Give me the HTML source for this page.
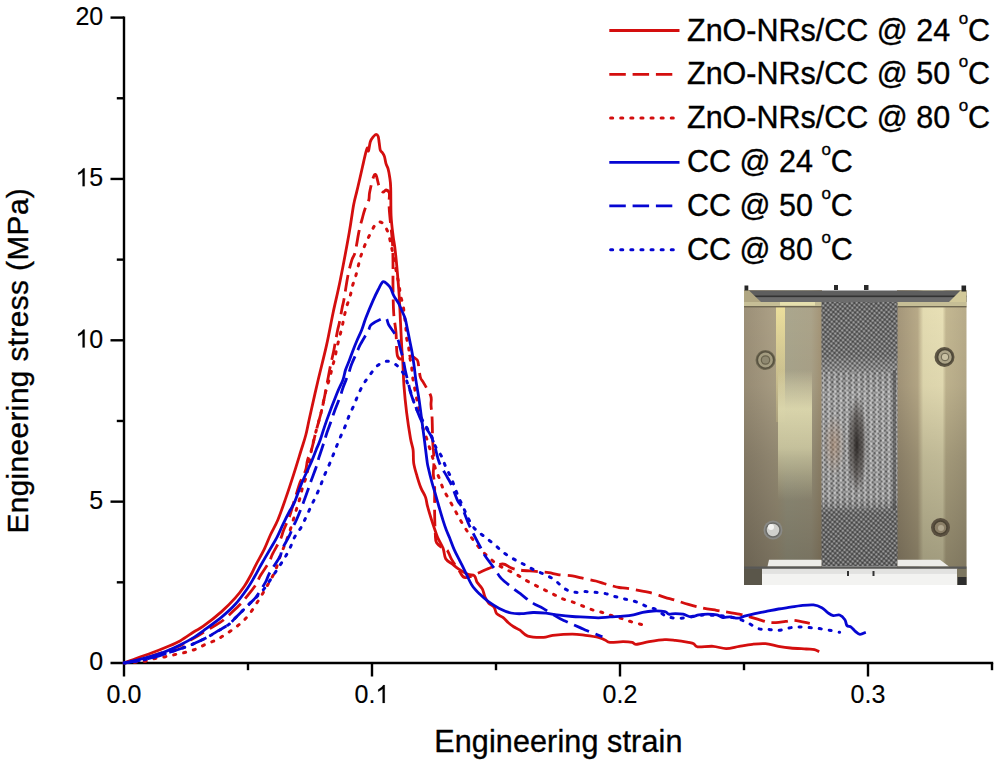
<!DOCTYPE html>
<html><head><meta charset="utf-8"><style>
html,body{margin:0;padding:0;background:#fff;}
svg{display:block;}
text{font-family:"Liberation Sans",sans-serif;fill:#000;stroke:#000;stroke-width:0.35px;}
.tk{font-size:25px;stroke-width:0.15px;}
.ti{font-size:30.5px;}
.lg{font-size:30.5px;}
.sup{font-size:17px;}
</style></head><body>
<svg width="1000" height="765" viewBox="0 0 1000 765">
<rect width="1000" height="765" fill="#fff"/>

<defs>
 <linearGradient id="gl" x1="744" x2="822" y1="0" y2="0" gradientUnits="userSpaceOnUse">
  <stop offset="0" stop-color="#9c9078"/>
  <stop offset="0.33" stop-color="#aa9e84"/>
  <stop offset="0.43" stop-color="#ada286"/>
  <stop offset="0.55" stop-color="#aba78e"/>
  <stop offset="0.86" stop-color="#aca48a"/>
  <stop offset="1" stop-color="#a49476"/>
 </linearGradient>
 <linearGradient id="gr" x1="897" x2="966" y1="0" y2="0" gradientUnits="userSpaceOnUse">
  <stop offset="0" stop-color="#a4967a"/>
  <stop offset="0.3" stop-color="#b8aa88"/>
  <stop offset="0.38" stop-color="#e4dcb2"/>
  <stop offset="0.66" stop-color="#e8e0b6"/>
  <stop offset="0.71" stop-color="#c4b892"/>
  <stop offset="1" stop-color="#b8ac8a"/>
 </linearGradient>
 <linearGradient id="gv" x1="0" x2="0" y1="300" y2="585" gradientUnits="userSpaceOnUse">
  <stop offset="0" stop-color="#000" stop-opacity="0"/>
  <stop offset="0.3" stop-color="#000" stop-opacity="0.04"/>
  <stop offset="0.55" stop-color="#000" stop-opacity="0.17"/>
  <stop offset="1" stop-color="#000" stop-opacity="0.33"/>
 </linearGradient>
 <linearGradient id="gs1" x1="0" x2="0" y1="307" y2="420" gradientUnits="userSpaceOnUse">
  <stop offset="0" stop-color="#ecdf9c" stop-opacity="1"/>
  <stop offset="1" stop-color="#ecdf9c" stop-opacity="0.3"/>
 </linearGradient>
 <linearGradient id="gs2" x1="0" x2="0" y1="370" y2="500" gradientUnits="userSpaceOnUse">
  <stop offset="0" stop-color="#efeabc" stop-opacity="0"/>
  <stop offset="0.3" stop-color="#efeabc" stop-opacity="0.95"/>
  <stop offset="0.6" stop-color="#efeabc" stop-opacity="0.9"/>
  <stop offset="1" stop-color="#efeabc" stop-opacity="0"/>
 </linearGradient>
 <linearGradient id="gm" x1="0" x2="0" y1="302" y2="566" gradientUnits="userSpaceOnUse">
  <stop offset="0" stop-color="#686868"/>
  <stop offset="0.2" stop-color="#6e6e6e"/>
  <stop offset="0.27" stop-color="#8a8a8a"/>
  <stop offset="0.35" stop-color="#9a9a9a"/>
  <stop offset="0.74" stop-color="#929292"/>
  <stop offset="0.8" stop-color="#686868"/>
  <stop offset="1" stop-color="#646464"/>
 </linearGradient>
 <radialGradient id="gd" cx="857" cy="445" r="50" gradientUnits="userSpaceOnUse" gradientTransform="translate(857 445) scale(0.2 1) translate(-857 -445)">
  <stop offset="0" stop-color="#2a2624" stop-opacity="0.95"/>
  <stop offset="0.6" stop-color="#3a3430" stop-opacity="0.55"/>
  <stop offset="1" stop-color="#3a3430" stop-opacity="0"/>
 </radialGradient>
 <radialGradient id="gb" cx="834" cy="445" r="22" gradientUnits="userSpaceOnUse" gradientTransform="translate(834 445) scale(0.5 1.4) translate(-834 -445)">
  <stop offset="0" stop-color="#a88060" stop-opacity="0.5"/>
  <stop offset="1" stop-color="#a88060" stop-opacity="0"/>
 </radialGradient>
 <pattern id="pm" width="3.4" height="3.4" patternUnits="userSpaceOnUse" patternTransform="rotate(40)">
  <rect x="0" y="0" width="1.7" height="1.7" fill="#fff" fill-opacity="0.32"/>
  <rect x="1.7" y="1.7" width="1.7" height="1.7" fill="#000" fill-opacity="0.3"/>
 </pattern>
 <pattern id="ps" width="6" height="14" patternUnits="userSpaceOnUse">
  <rect x="0" y="0" width="2" height="14" fill="#fff" fill-opacity="0.22"/>
  <rect x="3.5" y="0" width="1.2" height="14" fill="#000" fill-opacity="0.15"/>
 </pattern>
</defs>
<g>
 <rect x="744" y="290" width="78" height="295" fill="url(#gl)"/>
 <rect x="776" y="307" width="9" height="115" fill="url(#gs1)"/>
 <rect x="778" y="370" width="34" height="130" fill="url(#gs2)"/>
 <rect x="897" y="290" width="69.5" height="295" fill="url(#gr)"/>
 <rect x="744" y="290" width="222.5" height="295" fill="url(#gv)"/>
 <!-- top bar -->
 <rect x="744" y="290.5" width="222.5" height="11.5" fill="#5e5e5e"/>
 <rect x="744" y="295.5" width="222.5" height="1.8" fill="#333"/>
 <rect x="744" y="297.3" width="222.5" height="4.7" fill="#6c6c6c"/>
 <polygon points="744,290 748.5,290 761,302 744,302" fill="#b0a682"/>
 <polygon points="966.5,290 961,290 949,302 966.5,302" fill="#d2c99a"/>
 <rect x="744" y="302" width="222.5" height="4" fill="#c6be96"/>
 <rect x="780" y="302" width="35" height="3.5" fill="#e6e0ae"/>
 <rect x="744" y="306" width="222.5" height="1.4" fill="#6e6650"/>
 <!-- corner blocks -->
 <rect x="744.5" y="285.5" width="3.8" height="5" fill="#262626"/>
 <rect x="961.5" y="285.5" width="4.6" height="6" fill="#262626"/>
 <rect x="834" y="285" width="4" height="5" fill="#2a2a2a"/>
 <rect x="864" y="285" width="4.5" height="5" fill="#2a2a2a"/>
 <!-- mesh -->
 <rect x="821.5" y="302" width="76" height="264" fill="url(#gm)"/>
 <rect x="821.5" y="302" width="76" height="264" fill="url(#pm)"/>
 <rect x="823" y="372" width="70" height="136" fill="url(#ps)"/>
 <rect x="821.5" y="400" width="30" height="100" fill="url(#gb)"/>
 <rect x="821.5" y="380" width="76" height="130" fill="url(#gd)"/>
 <rect x="893" y="370" width="3" height="140" fill="#3a3a3a" fill-opacity="0.5"/>
 <!-- bottom fixtures -->
 <polygon points="769,559.8 821.5,559.8 821.5,566.6 767.5,566.6" fill="#ecece8"/>
 <polygon points="897.5,559.8 940,559.8 949,566.6 897.5,566.6" fill="#ecece8"/>
 <rect x="744" y="566.5" width="222.5" height="2.4" fill="#585856"/>
 <rect x="762" y="568.9" width="195.3" height="16.1" fill="#f3f3f1"/>
 <rect x="762" y="568.9" width="195.3" height="5" fill="#e2e2e0"/>
 <rect x="744" y="569" width="18" height="16" fill="#5a564a"/>
 <rect x="957" y="569" width="9.5" height="8" fill="#7c7660"/>
 <rect x="957.5" y="577" width="9" height="8" fill="#2d2d2d"/>
 <rect x="847" y="571" width="2" height="5" fill="#333"/>
 <rect x="872.5" y="571" width="2" height="5" fill="#333"/>
 <!-- bolts -->
 <circle cx="765.5" cy="360" r="10" fill="#6e6852" />
 <circle cx="765.5" cy="360" r="8.2" fill="#a39c80" stroke="#585240" stroke-width="1.6"/>
 <circle cx="765.5" cy="360" r="4.2" fill="#8e8870" stroke="#6a644e" stroke-width="1.2"/>
 <circle cx="944.5" cy="357" r="10" fill="#5e5644"/>
 <circle cx="945" cy="357" r="7.5" fill="#aca488" stroke="#4e4838" stroke-width="1.6"/>
 <circle cx="945" cy="357" r="3.8" fill="#c8c0a2" stroke="#6a644e" stroke-width="1"/>
 <circle cx="773" cy="530" r="9.5" fill="#8a8a86"/>
 <circle cx="773" cy="530" r="7" fill="#d0d0cc" stroke="#6a6a66" stroke-width="1.5"/>
 <circle cx="771" cy="527" r="3" fill="#f4f4f2"/>
 <circle cx="940.5" cy="527.5" r="9.5" fill="#5a5040"/>
 <circle cx="940.5" cy="527.5" r="6.5" fill="#8a7e66" stroke="#4a4232" stroke-width="1.4"/>
 <circle cx="941" cy="528" r="3" fill="#b0a68e"/>
</g>

<line x1="124" y1="16.4" x2="124" y2="676.5" stroke="#000" stroke-width="2.4"/>
<line x1="110.5" y1="663" x2="993.2" y2="663" stroke="#000" stroke-width="2.4"/>
<line x1="110.5" y1="501.65" x2="124" y2="501.65" stroke="#000" stroke-width="2.4"/>
<line x1="110.5" y1="340.30" x2="124" y2="340.30" stroke="#000" stroke-width="2.4"/>
<line x1="110.5" y1="178.95" x2="124" y2="178.95" stroke="#000" stroke-width="2.4"/>
<line x1="110.5" y1="17.60" x2="124" y2="17.60" stroke="#000" stroke-width="2.4"/>
<line x1="116.8" y1="582.33" x2="124" y2="582.33" stroke="#000" stroke-width="2.4"/>
<line x1="116.8" y1="420.97" x2="124" y2="420.97" stroke="#000" stroke-width="2.4"/>
<line x1="116.8" y1="259.62" x2="124" y2="259.62" stroke="#000" stroke-width="2.4"/>
<line x1="116.8" y1="98.27" x2="124" y2="98.27" stroke="#000" stroke-width="2.4"/>
<line x1="372.00" y1="663" x2="372.00" y2="676.5" stroke="#000" stroke-width="2.4"/>
<line x1="620.00" y1="663" x2="620.00" y2="676.5" stroke="#000" stroke-width="2.4"/>
<line x1="868.00" y1="663" x2="868.00" y2="676.5" stroke="#000" stroke-width="2.4"/>
<line x1="248.00" y1="663" x2="248.00" y2="670.2" stroke="#000" stroke-width="2.4"/>
<line x1="496.00" y1="663" x2="496.00" y2="670.2" stroke="#000" stroke-width="2.4"/>
<line x1="744.00" y1="663" x2="744.00" y2="670.2" stroke="#000" stroke-width="2.4"/>
<line x1="992.00" y1="663" x2="992.00" y2="670.2" stroke="#000" stroke-width="2.4"/>
<text x="103.2" y="670.20" text-anchor="end" class="tk">0</text>
<text x="103.2" y="508.85" text-anchor="end" class="tk">5</text>
<path d="M763 0L583 0L583 1147Q470 1040 222 930L222 1104Q520 1250 646 1472L763 1472Z" transform="translate(75.40,347.50) scale(0.012207,-0.012207)" fill="#000" stroke="#000" stroke-width="12.3"/>
<text x="103.2" y="347.50" text-anchor="end" class="tk">0</text>
<path d="M763 0L583 0L583 1147Q470 1040 222 930L222 1104Q520 1250 646 1472L763 1472Z" transform="translate(75.40,186.15) scale(0.012207,-0.012207)" fill="#000" stroke="#000" stroke-width="12.3"/>
<text x="103.2" y="186.15" text-anchor="end" class="tk">5</text>
<text x="103.2" y="24.80" text-anchor="end" class="tk">20</text>
<text x="124.00" y="703.0" text-anchor="middle" class="tk">0.0</text>
<text x="354.62" y="703.0" class="tk">0.</text>
<path d="M763 0L583 0L583 1147Q470 1040 222 930L222 1104Q520 1250 646 1472L763 1472Z" transform="translate(375.47,703.00) scale(0.012207,-0.012207)" fill="#000" stroke="#000" stroke-width="12.3"/>
<text x="620.00" y="703.0" text-anchor="middle" class="tk">0.2</text>
<text x="868.00" y="703.0" text-anchor="middle" class="tk">0.3</text>
<text x="434.2" y="751.8" class="ti" textLength="248.2" lengthAdjust="spacing">Engineering strain</text>
<text transform="translate(28.3,533.6) rotate(-90)" class="ti" style="font-size:29.8px" textLength="345.4" lengthAdjust="spacing">Engineering stress (MPa)</text>
<path d="M124,663C126.33,662.12 133.33,659.40 138,657.7C142.67,656.00 147.33,654.55 152,652.8C156.67,651.05 161.33,649.18 166,647.2C170.67,645.22 175.33,643.47 180,640.9C184.67,638.33 190.12,634.25 194,631.8C197.88,629.35 198.70,629.57 203.3,626.2C207.90,622.83 216.27,616.32 221.6,611.6C226.93,606.88 231.48,602.17 235.3,597.9C239.12,593.63 241.90,589.82 244.5,586C247.10,582.18 249.00,578.53 250.9,575C252.80,571.47 253.67,569.10 255.9,564.8C258.13,560.50 261.85,554.25 264.3,549.2C266.75,544.15 268.35,539.37 270.6,534.5C272.85,529.63 275.28,526.02 277.8,520C280.32,513.98 283.08,505.92 285.7,498.4C288.32,490.88 290.97,482.80 293.5,474.9C296.03,467.00 298.85,457.65 300.9,451C302.95,444.35 304.37,440.50 305.8,435C307.23,429.50 307.55,426.72 309.5,418C311.45,409.28 314.67,394.80 317.5,382.7C320.33,370.60 323.90,357.07 326.5,345.4C329.10,333.73 330.80,323.60 333.1,312.7C335.40,301.80 337.62,293.33 340.3,280C342.98,266.67 346.98,245.20 349.2,232.7C351.42,220.20 352.35,211.80 353.6,205C354.85,198.20 355.65,196.35 356.7,191.9C357.75,187.45 358.93,182.48 359.9,178.3C360.87,174.12 361.63,170.63 362.5,166.8C363.37,162.97 364.32,158.43 365.1,155.3C365.88,152.17 366.63,148.72 367.2,148C367.77,147.28 367.98,152.05 368.5,151C369.02,149.95 369.47,144.12 370.3,141.7C371.13,139.28 372.53,137.72 373.5,136.5C374.47,135.28 375.32,134.40 376.1,134.4C376.88,134.40 377.68,135.10 378.2,136.5C378.72,137.90 378.85,140.53 379.2,142.8C379.55,145.07 379.77,148.45 380.3,150.1C380.83,151.75 381.72,151.65 382.4,152.7C383.08,153.75 383.80,154.57 384.4,156.4C385.00,158.23 385.38,161.62 386,163.7C386.62,165.78 387.48,166.63 388.1,168.9C388.72,171.17 389.27,174.17 389.7,177.3C390.13,180.43 390.47,181.25 390.7,187.7C390.93,194.15 390.70,207.98 391.1,216C391.50,224.02 392.45,230.33 393.1,235.8C393.75,241.27 394.35,243.37 395,248.8C395.65,254.23 396.30,260.53 397,268.4C397.70,276.27 398.62,287.02 399.2,296C399.78,304.98 400.07,313.57 400.5,322.3C400.93,331.03 401.43,342.12 401.8,348.4C402.17,354.68 402.33,353.72 402.7,360C403.07,366.28 403.35,377.38 404,386.1C404.65,394.82 405.52,403.58 406.6,412.3C407.68,421.02 409.42,432.12 410.5,438.4C411.58,444.68 412.57,445.88 413.1,450C413.63,454.12 413.05,458.75 413.7,463.1C414.35,467.45 415.80,471.97 417,476.1C418.20,480.23 419.48,484.40 420.9,487.9C422.32,491.40 424.40,494.05 425.5,497.1C426.60,500.15 426.52,502.50 427.5,506.2C428.48,509.90 430.10,515.17 431.4,519.3C432.70,523.43 434.23,527.92 435.3,531C436.37,534.08 436.50,534.92 437.8,537.8C439.10,540.68 441.78,544.80 443.1,548.3C444.42,551.80 444.18,556.18 445.7,558.8C447.22,561.42 450.02,562.27 452.2,564C454.38,565.73 456.18,567.47 458.8,569.2C461.42,570.93 465.30,573.30 467.9,574.4C470.50,575.50 472.87,574.48 474.4,575.8C475.93,577.12 475.78,580.13 477.1,582.3C478.42,584.47 481.00,586.40 482.3,588.8C483.60,591.20 483.82,594.30 484.9,596.7C485.98,599.10 487.27,601.47 488.8,603.2C490.33,604.93 492.78,605.35 494.1,607.1C495.42,608.85 495.18,611.95 496.7,613.7C498.22,615.45 501.25,616.08 503.2,617.6C505.15,619.12 506.65,621.28 508.4,622.8C510.15,624.32 511.77,625.47 513.7,626.7C515.63,627.93 517.65,628.63 520,630.2C522.35,631.77 523.88,634.90 527.8,636.1C531.72,637.30 539.35,637.52 543.5,637.4C547.65,637.28 547.90,635.95 552.7,635.4C557.50,634.85 566.85,634.10 572.3,634.1C577.75,634.10 581.05,634.85 585.4,635.4C589.75,635.95 595.13,636.63 598.4,637.4C601.67,638.17 603.07,639.17 605,640C606.93,640.83 606.98,642.12 610,642.4C613.02,642.68 619.40,641.70 623.1,641.7C626.80,641.70 630.03,641.97 632.2,642.4C634.37,642.83 633.27,644.42 636.1,644.3C638.93,644.18 644.40,642.47 649.2,641.7C654.00,640.93 660.53,639.92 664.9,639.7C669.27,639.48 671.48,639.95 675.4,640.4C679.32,640.85 685.35,641.85 688.4,642.4C691.45,642.95 692.17,642.95 693.7,643.7C695.23,644.45 694.37,646.47 697.6,646.9C700.83,647.33 708.35,646.02 713.1,646.3C717.85,646.58 721.75,648.60 726.1,648.6C730.45,648.60 734.83,647.02 739.2,646.3C743.57,645.58 747.93,644.73 752.3,644.3C756.67,643.87 761.05,643.37 765.4,643.7C769.75,644.03 774.22,645.58 778.4,646.3C782.58,647.02 785.87,647.55 790.5,648C795.13,648.45 802.20,648.73 806.2,649C810.20,649.27 812.33,649.15 814.5,649.6C816.67,650.05 818.42,651.35 819.2,651.7" fill="none" stroke="#d40e0e" stroke-width="2.8" stroke-linejoin="round"/>
<path d="M124,663C128.33,661.92 141.50,659.00 150,656.5C158.50,654.00 167.50,651.17 175,648C182.50,644.83 189.83,640.37 195,637.5C200.17,634.63 201.87,633.28 206,630.8C210.13,628.32 216.52,624.73 219.8,622.6C223.08,620.47 222.50,620.83 225.7,618C228.90,615.17 235.80,608.80 239,605.6C242.20,602.40 242.23,602.07 244.9,598.8C247.57,595.53 252.38,589.92 255,586C257.62,582.08 258.27,579.27 260.6,575.3C262.93,571.33 267.00,565.77 269,562.2C271.00,558.63 270.68,557.73 272.6,553.9C274.52,550.07 278.67,543.13 280.5,539.2C282.33,535.27 282.12,534.05 283.6,530.3C285.08,526.55 287.83,520.92 289.4,516.7C290.97,512.48 291.73,509.12 293,505C294.27,500.88 295.78,495.87 297,492C298.22,488.13 298.87,485.42 300.3,481.8C301.73,478.18 304.38,473.95 305.6,470.3C306.82,466.65 306.60,463.40 307.6,459.9C308.60,456.40 310.18,454.12 311.6,449.3C313.02,444.48 314.47,437.32 316.1,431C317.73,424.68 319.87,417.72 321.4,411.4C322.93,405.08 323.90,400.18 325.3,393.1C326.70,386.02 328.50,375.43 329.8,368.9C331.10,362.37 332.23,358.03 333.1,353.9C333.97,349.77 334.25,348.03 335,344.1C335.75,340.17 336.83,334.02 337.6,330.3C338.37,326.58 338.83,325.60 339.6,321.8C340.37,318.00 341.47,311.25 342.2,307.5C342.93,303.75 343.05,304.58 344,299.3C344.95,294.02 346.60,282.33 347.9,275.8C349.20,269.27 350.60,264.02 351.8,260.1C353.00,256.18 353.90,257.08 355.1,252.3C356.30,247.52 357.80,237.07 359,231.4C360.20,225.73 361.32,222.00 362.3,218.3C363.28,214.60 363.82,212.25 364.9,209.2C365.98,206.15 368.02,202.78 368.8,200C369.58,197.22 368.85,196.27 369.6,192.5C370.35,188.73 372.23,180.30 373.3,177.4C374.37,174.50 375.02,173.58 376,175.1C376.98,176.62 378.05,183.68 379.2,186.5C380.35,189.32 381.77,191.42 382.9,192C384.03,192.58 384.93,189.83 386,190C387.07,190.17 388.80,190.83 389.3,193C389.80,195.17 388.92,199.17 389,203C389.08,206.83 389.23,209.50 389.8,216C390.37,222.50 391.87,234.17 392.4,242C392.93,249.83 392.90,255.55 393,263C393.10,270.45 392.88,278.35 393,286.7C393.12,295.05 393.20,305.43 393.7,313.1C394.20,320.77 395.37,325.55 396,332.7C396.63,339.85 396.17,351.62 397.5,356C398.83,360.38 401.75,359.00 404,359C406.25,359.00 409.00,356.00 411,356C413.00,356.00 414.83,358.00 416,359C417.17,360.00 417.28,359.00 418,362C418.72,365.00 419.37,373.52 420.3,377C421.23,380.48 421.85,379.73 423.6,382.9C425.35,386.07 429.57,392.32 430.8,396C432.03,399.68 430.78,401.30 431,405C431.22,408.70 431.82,412.20 432.1,418.2C432.38,424.20 432.38,434.03 432.7,441C433.02,447.97 433.90,454.58 434,460C434.10,465.42 433.20,469.28 433.3,473.5C433.40,477.72 434.38,478.98 434.6,485.3C434.82,491.62 434.48,503.33 434.6,511.4C434.72,519.47 434.97,528.47 435.3,533.7C435.63,538.93 435.08,540.20 436.6,542.8C438.12,545.40 442.57,547.95 444.4,549.3C446.23,550.65 446.40,549.22 447.6,550.9C448.80,552.58 449.63,556.02 451.6,559.4C453.57,562.78 457.12,568.15 459.4,571.2C461.68,574.25 461.92,577.48 465.3,577.7C468.68,577.92 475.88,574.02 479.7,572.5C483.52,570.98 484.40,570.02 488.2,568.6C492.00,567.18 498.70,564.12 502.5,564C506.30,563.88 508.08,566.88 511,567.9C513.92,568.92 515.88,569.52 520,570.1C524.12,570.68 530.90,570.97 535.7,571.4C540.50,571.83 545.10,572.17 548.8,572.7C552.50,573.23 553.98,574.07 557.9,574.6C561.82,575.13 568.38,575.35 572.3,575.9C576.22,576.45 577.48,577.05 581.4,577.9C585.32,578.75 592.07,580.07 595.8,581C599.53,581.93 601.27,582.75 603.8,583.5C606.33,584.25 608.43,584.83 611,585.5C613.57,586.17 616.43,587.02 619.2,587.5C621.97,587.98 623.75,587.80 627.6,588.4C631.45,589.00 638.48,590.38 642.3,591.1C646.12,591.82 646.73,591.67 650.5,592.7C654.27,593.73 660.97,596.10 664.9,597.3C668.83,598.50 670.18,598.72 674.1,599.9C678.02,601.08 683.83,603.10 688.4,604.4C692.97,605.70 696.85,606.72 701.5,607.7C706.15,608.68 712.52,609.65 716.3,610.3C720.08,610.95 720.38,610.95 724.2,611.6C728.02,612.25 735.28,613.43 739.2,614.2C743.12,614.97 743.78,615.10 747.7,616.2C751.62,617.30 758.78,619.72 762.7,620.8C766.62,621.88 767.38,622.60 771.2,622.7C775.02,622.80 781.78,621.80 785.6,621.4C789.42,621.00 790.07,619.97 794.1,620.3C798.13,620.63 807.18,622.88 809.8,623.4" fill="none" stroke="#d40e0e" stroke-width="2.8" stroke-linejoin="round" stroke-dasharray="16.5 6.8"/>
<path d="M124,663C127.45,662.70 139.60,661.95 144.7,661.2C149.80,660.45 151.15,659.25 154.6,658.5C158.05,657.75 161.95,657.37 165.4,656.7C168.85,656.03 171.85,655.25 175.3,654.5C178.75,653.75 182.65,653.12 186.1,652.2C189.55,651.28 192.68,650.35 196,649C199.32,647.65 202.65,645.60 206,644.1C209.35,642.60 212.88,641.60 216.1,640C219.32,638.40 222.10,636.57 225.3,634.5C228.50,632.43 232.18,629.97 235.3,627.6C238.42,625.23 241.18,623.20 244,620.3C246.82,617.40 249.62,613.80 252.2,610.2C254.78,606.60 257.30,602.25 259.5,598.7C261.70,595.15 263.55,592.07 265.4,588.9C267.25,585.73 268.95,582.67 270.6,579.7C272.25,576.73 273.92,574.45 275.3,571.1C276.68,567.75 277.68,563.08 278.9,559.6C280.12,556.12 281.28,553.52 282.6,550.2C283.92,546.88 285.50,543.18 286.8,539.7C288.10,536.22 289.27,532.78 290.4,529.3C291.53,525.82 292.55,522.27 293.6,518.8C294.65,515.33 295.67,511.87 296.7,508.5C297.73,505.13 298.85,502.00 299.8,498.6C300.75,495.20 301.35,491.68 302.4,488.1C303.45,484.52 305.13,480.50 306.1,477.1C307.07,473.70 307.28,472.33 308.2,467.7C309.12,463.07 310.28,455.42 311.6,449.3C312.92,443.18 314.47,437.32 316.1,431C317.73,424.68 319.87,417.72 321.4,411.4C322.93,405.08 323.90,398.77 325.3,393.1C326.70,387.43 328.62,381.77 329.8,377.4C330.98,373.03 331.53,370.28 332.4,366.9C333.27,363.52 334.23,360.37 335,357.1C335.77,353.83 336.23,350.67 337,347.3C337.77,343.93 338.73,340.38 339.6,336.9C340.47,333.42 341.43,329.78 342.2,326.4C342.97,323.02 343.43,319.98 344.2,316.6C344.97,313.22 345.82,309.48 346.8,306.1C347.78,302.72 349.12,299.78 350.1,296.3C351.08,292.82 351.75,288.62 352.7,285.2C353.65,281.78 354.85,279.10 355.8,275.8C356.75,272.50 357.53,268.77 358.4,265.4C359.27,262.03 359.92,258.98 361,255.6C362.08,252.22 363.48,248.48 364.9,245.1C366.32,241.72 367.87,238.57 369.5,235.3C371.13,232.03 373.12,227.72 374.7,225.5C376.28,223.28 377.53,222.25 379,222C380.47,221.75 382.03,222.33 383.5,224C384.97,225.67 386.53,228.52 387.8,232C389.07,235.48 390.07,240.23 391.1,244.9C392.13,249.57 393.02,254.98 394,260C394.98,265.02 396.13,270.72 397,275C397.87,279.28 398.62,282.28 399.2,285.7C399.78,289.12 399.85,292.23 400.5,295.5C401.15,298.77 402.45,301.92 403.1,305.3C403.75,308.68 403.95,312.32 404.4,315.8C404.85,319.28 405.47,322.72 405.8,326.2C406.13,329.68 405.97,333.43 406.4,336.7C406.83,339.97 407.85,342.53 408.4,345.8C408.95,349.07 409.17,352.82 409.7,356.3C410.23,359.78 411.13,363.37 411.6,366.7C412.07,370.03 412.03,372.95 412.5,376.3C412.97,379.65 413.75,383.30 414.4,386.8C415.05,390.30 415.73,393.92 416.4,397.3C417.07,400.68 417.63,403.73 418.4,407.1C419.17,410.47 420.25,414.02 421,417.5C421.75,420.98 422.03,424.73 422.9,428C423.77,431.27 425.10,433.83 426.2,437.1C427.30,440.37 428.42,444.15 429.5,447.6C430.58,451.05 431.73,454.35 432.7,457.8C433.67,461.25 434.22,464.92 435.3,468.3C436.38,471.68 437.90,474.72 439.2,478.1C440.50,481.48 441.57,485.22 443.1,488.6C444.63,491.98 446.55,495.03 448.4,498.4C450.25,501.77 452.35,505.43 454.2,508.8C456.05,512.17 457.63,515.33 459.5,518.6C461.37,521.87 463.33,525.13 465.4,528.4C467.47,531.67 469.52,534.88 471.9,538.2C474.28,541.52 477.10,545.32 479.7,548.3C482.30,551.28 484.67,553.48 487.5,556.1C490.33,558.72 493.65,561.82 496.7,564C499.75,566.18 502.53,567.47 505.8,569.2C509.07,570.93 513.05,572.60 516.3,574.4C519.55,576.20 522.18,578.22 525.3,580C528.42,581.78 531.85,583.48 535,585.1C538.15,586.72 541.15,588.18 544.2,589.7C547.25,591.22 550.25,592.68 553.3,594.2C556.35,595.72 559.23,597.48 562.5,598.8C565.77,600.12 569.53,600.90 572.9,602.1C576.27,603.30 579.43,604.70 582.7,606C585.97,607.30 589.22,608.82 592.5,609.9C595.78,610.98 599.12,611.52 602.4,612.5C605.68,613.48 608.87,614.75 612.2,615.8C615.53,616.85 619.07,617.75 622.4,618.8C625.73,619.85 628.82,621.12 632.2,622.1C635.58,623.08 640.95,624.27 642.7,624.7" fill="none" stroke="#d40e0e" stroke-width="3.0" stroke-linejoin="round" stroke-dasharray="2.1 8.0" stroke-linecap="round"/>
<path d="M124,663C126.33,662.47 133.33,660.97 138,659.8C142.67,658.63 147.33,657.40 152,656C156.67,654.60 161.33,653.22 166,651.4C170.67,649.58 175.33,647.43 180,645.1C184.67,642.77 190.12,639.78 194,637.4C197.88,635.02 198.70,634.18 203.3,630.8C207.90,627.42 216.27,621.52 221.6,617.1C226.93,612.68 231.03,609.03 235.3,604.3C239.57,599.57 244.00,593.28 247.2,588.7C250.40,584.12 252.18,580.78 254.5,576.8C256.82,572.82 258.60,569.23 261.1,564.8C263.60,560.37 266.88,554.73 269.5,550.2C272.12,545.67 274.53,541.95 276.8,537.6C279.07,533.25 281.00,528.45 283.1,524.1C285.20,519.75 287.48,515.17 289.4,511.5C291.32,507.83 292.60,506.70 294.6,502.1C296.60,497.50 298.53,490.77 301.4,483.9C304.27,477.03 309.35,466.55 311.8,460.9C314.25,455.25 314.70,453.48 316.1,450C317.50,446.52 318.45,444.90 320.2,440C321.95,435.10 323.78,428.42 326.6,420.6C329.42,412.78 334.38,399.87 337.1,393.1C339.82,386.33 341.50,383.85 342.9,380C344.30,376.15 344.43,373.25 345.5,370C346.57,366.75 348.08,363.68 349.3,360.5C350.52,357.32 351.52,354.23 352.8,350.9C354.08,347.57 355.52,343.98 357,340.5C358.48,337.02 360.23,333.75 361.7,330C363.17,326.25 363.90,322.93 365.8,318C367.70,313.07 371.02,305.15 373.1,300.4C375.18,295.65 376.67,292.60 378.3,289.5C379.93,286.40 381.37,282.65 382.9,281.8C384.43,280.95 386.20,283.32 387.5,284.4C388.80,285.48 389.62,286.35 390.7,288.3C391.78,290.25 392.68,293.60 394,296.1C395.32,298.60 397.30,300.90 398.6,303.3C399.90,305.70 400.72,307.98 401.8,310.5C402.88,313.02 404.22,315.57 405.1,318.4C405.98,321.23 406.33,323.80 407.1,327.5C407.87,331.20 408.83,336.23 409.7,340.6C410.57,344.97 411.55,349.35 412.3,353.7C413.05,358.05 413.62,362.38 414.2,366.7C414.78,371.02 415.00,374.18 415.8,379.6C416.60,385.02 418.03,392.67 419,399.2C419.97,405.73 420.73,412.27 421.6,418.8C422.47,425.33 423.32,431.53 424.2,438.4C425.08,445.27 426.25,455.23 426.9,460C427.55,464.77 427.25,463.22 428.1,467C428.95,470.78 430.70,477.90 432,482.7C433.30,487.50 434.70,491.67 435.9,495.8C437.10,499.93 438.00,503.37 439.2,507.5C440.40,511.63 441.92,516.85 443.1,520.6C444.28,524.35 445.22,527.13 446.3,530C447.38,532.87 448.28,534.53 449.6,537.8C450.92,541.07 452.45,545.67 454.2,549.6C455.95,553.53 458.25,557.70 460.1,561.4C461.95,565.10 463.35,567.88 465.3,571.8C467.25,575.72 469.40,581.18 471.8,584.9C474.20,588.62 476.87,591.27 479.7,594.1C482.53,596.93 485.53,599.52 488.8,601.9C492.07,604.28 495.60,606.55 499.3,608.4C503.00,610.25 507.30,612.12 511,613C514.70,613.88 517.82,613.78 521.5,613.7C525.18,613.62 529.00,612.58 533.1,612.5C537.20,612.42 541.75,612.75 546.1,613.2C550.45,613.65 554.83,614.65 559.2,615.2C563.57,615.75 567.93,616.18 572.3,616.5C576.67,616.82 581.05,616.88 585.4,617.1C589.75,617.32 594.30,617.83 598.4,617.8C602.50,617.77 605.88,617.17 610,616.9C614.12,616.63 619.18,616.53 623.1,616.2C627.02,615.87 630.23,615.55 633.5,614.9C636.77,614.25 639.43,612.95 642.7,612.3C645.97,611.65 649.40,611.12 653.1,611C656.80,610.88 662.28,611.07 664.9,611.6C667.52,612.13 667.05,613.87 668.8,614.2C670.55,614.53 673.00,613.60 675.4,613.6C677.80,613.60 680.60,613.65 683.2,614.2C685.80,614.75 688.38,616.78 691,616.9C693.62,617.02 696.10,615.35 698.9,614.9C701.70,614.45 704.78,614.20 707.8,614.2C710.82,614.20 714.48,614.35 717,614.9C719.52,615.45 720.72,617.17 722.9,617.5C725.08,617.83 727.60,616.78 730.1,616.9C732.60,617.02 735.52,618.32 737.9,618.2C740.28,618.08 741.57,616.97 744.4,616.2C747.23,615.43 751.40,614.37 754.9,613.6C758.40,612.83 761.48,612.37 765.4,611.6C769.32,610.83 774.22,609.73 778.4,609C782.58,608.27 786.75,607.77 790.5,607.2C794.25,606.63 797.07,605.98 800.9,605.6C804.73,605.22 810.02,604.55 813.5,604.9C816.98,605.25 819.37,606.37 821.8,607.7C824.23,609.03 826.18,611.58 828.1,612.9C830.02,614.22 831.38,615.25 833.3,615.6C835.22,615.95 837.67,614.32 839.6,615C841.53,615.68 843.68,617.95 844.9,619.7C846.12,621.45 845.87,624.27 846.9,625.5C847.93,626.73 849.70,626.13 851.1,627.1C852.50,628.07 853.82,630.08 855.3,631.3C856.78,632.52 858.25,634.23 860,634.4C861.75,634.57 864.83,632.65 865.8,632.3" fill="none" stroke="#0606d2" stroke-width="2.8" stroke-linejoin="round"/>
<path d="M124,663C126.67,662.58 134.87,661.50 140,660.5C145.13,659.50 150.13,658.28 154.8,657C159.47,655.72 162.63,654.55 168,652.8C173.37,651.05 182.65,648.03 187,646.5C191.35,644.97 190.70,645.15 194.1,643.6C197.50,642.05 203.88,639.03 207.4,637.2C210.92,635.37 211.62,634.73 215.2,632.6C218.78,630.47 225.55,626.83 228.9,624.4C232.25,621.97 231.95,621.35 235.3,618C238.65,614.65 245.55,607.80 249,604.3C252.45,600.80 253.27,600.65 256,597C258.73,593.35 263.15,586.37 265.4,582.4C267.65,578.43 267.07,577.52 269.5,573.2C271.93,568.88 277.90,560.50 280,556.5C282.10,552.50 280.53,552.68 282.1,549.2C283.67,545.72 287.55,539.40 289.4,535.6C291.25,531.80 292.03,529.00 293.2,526.4C294.37,523.80 294.78,523.77 296.4,520C298.02,516.23 300.93,508.93 302.9,503.8C304.87,498.67 306.80,493.12 308.2,489.2C309.60,485.28 309.92,484.15 311.3,480.3C312.68,476.45 315.18,470.03 316.5,466.1C317.82,462.17 317.97,460.62 319.2,456.7C320.43,452.78 322.67,446.43 323.9,442.6C325.13,438.77 325.28,437.58 326.6,433.7C327.92,429.82 330.50,423.02 331.8,419.3C333.10,415.58 332.98,415.22 334.4,411.4C335.82,407.58 338.88,400.32 340.3,396.4C341.72,392.48 341.48,391.82 342.9,387.9C344.32,383.98 347.38,376.77 348.8,372.9C350.22,369.03 349.88,368.53 351.4,364.7C352.92,360.87 356.38,353.33 357.9,349.9C359.42,346.47 358.75,347.33 360.5,344.1C362.25,340.87 366.55,333.78 368.4,330.5C370.25,327.22 368.83,326.48 371.6,324.4C374.37,322.32 382.13,317.92 385,318C387.87,318.08 386.75,321.57 388.8,324.9C390.85,328.23 395.45,334.30 397.3,338C399.15,341.70 398.93,343.62 399.9,347.1C400.87,350.58 402.20,355.00 403.1,358.9C404.00,362.80 404.28,365.85 405.3,370.5C406.32,375.15 408.22,382.78 409.2,386.8C410.18,390.82 410.10,391.22 411.2,394.6C412.30,397.98 414.17,402.87 415.8,407.1C417.43,411.33 419.30,416.52 421,420C422.70,423.48 424.33,425.33 426,428C427.67,430.67 429.50,432.83 431,436C432.50,439.17 433.63,442.60 435,447C436.37,451.40 437.18,457.43 439.2,462.4C441.22,467.37 445.03,472.98 447.1,476.8C449.17,480.62 449.87,481.38 451.6,485.3C453.33,489.22 455.75,496.60 457.5,500.3C459.25,504.00 460.35,503.80 462.1,507.5C463.85,511.20 466.27,518.42 468,522.5C469.73,526.58 470.45,527.92 472.5,532C474.55,536.08 478.23,543.08 480.3,547C482.37,550.92 482.38,551.68 484.9,555.5C487.42,559.32 492.68,566.08 495.4,569.9C498.12,573.72 498.15,575.25 501.2,578.4C504.25,581.55 510.32,586.08 513.7,588.8C517.08,591.52 518.78,592.63 521.5,594.7C524.22,596.77 527.63,599.53 530,601.2C532.37,602.87 533.45,603.47 535.7,604.7C537.95,605.93 539.90,606.53 543.5,608.6C547.10,610.67 553.70,615.03 557.3,617.1C560.90,619.17 561.30,619.25 565.1,621C568.90,622.75 576.40,625.97 580.1,627.6C583.80,629.23 583.58,629.28 587.3,630.8C591.02,632.32 599.88,635.72 602.4,636.7" fill="none" stroke="#0606d2" stroke-width="2.8" stroke-linejoin="round" stroke-dasharray="16.5 6.8"/>
<path d="M124,663C126.67,662.58 134.87,661.50 140,660.5C145.13,659.50 150.13,658.28 154.8,657C159.47,655.72 162.63,654.55 168,652.8C173.37,651.05 182.65,648.03 187,646.5C191.35,644.97 190.70,645.15 194.1,643.6C197.50,642.05 203.88,639.03 207.4,637.2C210.92,635.37 211.62,634.73 215.2,632.6C218.78,630.47 225.55,626.83 228.9,624.4C232.25,621.97 231.95,621.35 235.3,618C238.65,614.65 245.55,607.70 249,604.3C252.45,600.90 253.37,600.32 256,597.6C258.63,594.88 262.20,591.28 264.8,588C267.40,584.72 269.25,581.42 271.6,577.9C273.95,574.38 276.63,570.38 278.9,566.9C281.17,563.42 283.28,560.30 285.2,557C287.12,553.70 288.83,550.42 290.4,547.1C291.97,543.78 292.80,540.42 294.6,537.1C296.40,533.78 299.28,530.57 301.2,527.2C303.12,523.83 304.50,520.28 306.1,516.9C307.70,513.52 309.23,510.22 310.8,506.9C312.37,503.58 313.93,500.40 315.5,497C317.07,493.60 318.80,489.90 320.2,486.5C321.60,483.10 322.50,480.00 323.9,476.6C325.30,473.20 327.13,469.50 328.6,466.1C330.07,462.70 331.37,459.52 332.7,456.2C334.03,452.88 335.22,449.63 336.6,446.2C337.98,442.77 339.50,439.10 341,435.6C342.50,432.10 344.18,428.68 345.6,425.2C347.02,421.72 348.08,418.08 349.5,414.7C350.92,411.32 352.68,408.17 354.1,404.9C355.52,401.63 356.48,398.48 358,395.1C359.52,391.72 361.28,387.87 363.2,384.6C365.12,381.33 367.07,378.70 369.5,375.5C371.93,372.30 374.80,367.78 377.8,365.4C380.80,363.02 384.20,361.10 387.5,361.2C390.80,361.30 394.75,363.58 397.6,366C400.45,368.42 402.83,372.45 404.6,375.7C406.37,378.95 407.00,382.23 408.2,385.5C409.40,388.77 410.65,391.92 411.8,395.3C412.95,398.68 413.68,402.32 415.1,405.8C416.52,409.28 418.45,412.72 420.3,416.2C422.15,419.68 424.35,423.43 426.2,426.7C428.05,429.97 429.87,432.53 431.4,435.8C432.93,439.07 433.72,442.88 435.4,446.3C437.08,449.72 439.77,452.85 441.5,456.3C443.23,459.75 444.22,463.47 445.8,467C447.38,470.53 449.48,474.02 451,477.5C452.52,480.98 453.60,484.53 454.9,487.9C456.20,491.27 457.38,494.43 458.8,497.7C460.22,500.97 461.87,504.12 463.4,507.5C464.93,510.88 466.15,514.52 468,518C469.85,521.48 471.88,525.38 474.5,528.4C477.12,531.42 480.43,533.45 483.7,536.1C486.97,538.75 490.73,541.50 494.1,544.3C497.47,547.10 500.53,550.38 503.9,552.9C507.27,555.42 510.95,557.48 514.3,559.4C517.65,561.32 520.65,562.62 524,564.4C527.35,566.18 530.93,568.40 534.4,570.1C537.87,571.80 541.43,572.97 544.8,574.6C548.17,576.23 551.22,577.50 554.6,579.9C557.98,582.30 561.60,586.93 565.1,589C568.60,591.07 572.22,591.87 575.6,592.3C578.98,592.73 582.13,591.60 585.4,591.6C588.67,591.60 591.83,591.97 595.2,592.3C598.57,592.63 602.13,592.85 605.6,593.6C609.07,594.35 612.65,595.87 616,596.8C619.35,597.73 622.35,598.37 625.7,599.2C629.05,600.03 632.62,600.60 636.1,601.8C639.58,603.00 643.22,605.08 646.6,606.4C649.98,607.72 653.13,608.07 656.4,609.7C659.67,611.33 662.82,614.78 666.2,616.2C669.58,617.62 673.22,617.98 676.7,618.2C680.18,618.42 683.73,617.93 687.1,617.5C690.47,617.07 693.75,616.02 696.9,615.6C700.05,615.18 702.82,615.02 706,615C709.18,614.98 712.50,615.25 716,615.5C719.50,615.75 723.35,615.95 727,616.5C730.65,617.05 734.45,617.77 737.9,618.8C741.35,619.83 744.32,621.07 747.7,622.7C751.08,624.33 754.82,627.50 758.2,628.6C761.58,629.70 764.63,629.00 768,629.3C771.37,629.60 774.92,630.62 778.4,630.4C781.88,630.18 785.55,628.58 788.9,628C792.25,627.42 795.10,626.97 798.5,626.9C801.90,626.83 805.85,627.32 809.3,627.6C812.75,627.88 815.88,628.17 819.2,628.6C822.52,629.03 825.80,629.58 829.2,630.2C832.60,630.82 837.87,631.95 839.6,632.3" fill="none" stroke="#0606d2" stroke-width="3.0" stroke-linejoin="round" stroke-dasharray="2.1 8.0" stroke-linecap="round"/>
<line x1="609.3" y1="30.5" x2="679.5" y2="30.5" stroke="#d40e0e" stroke-width="2.8"/>
<text x="687" y="40.5" class="lg">ZnO-NRs/CC @ 24 <tspan class="sup" dy="-17">o</tspan><tspan dy="17">C</tspan></text>
<line x1="609.3" y1="74.4" x2="672.3" y2="74.4" stroke="#d40e0e" stroke-width="2.8" stroke-dasharray="16.5 6.8"/>
<text x="687" y="84.4" class="lg">ZnO-NRs/CC @ 50 <tspan class="sup" dy="-17">o</tspan><tspan dy="17">C</tspan></text>
<line x1="610.6" y1="118.1" x2="674" y2="118.1" stroke="#d40e0e" stroke-width="3.0" stroke-dasharray="2.1 8.0" stroke-linecap="round"/>
<text x="687" y="128.1" class="lg">ZnO-NRs/CC @ 80 <tspan class="sup" dy="-17">o</tspan><tspan dy="17">C</tspan></text>
<line x1="609.3" y1="162.3" x2="679.5" y2="162.3" stroke="#0606d2" stroke-width="2.8"/>
<text x="687" y="172.3" class="lg">CC @ 24 <tspan class="sup" dy="-17">o</tspan><tspan dy="17">C</tspan></text>
<line x1="609.3" y1="205.9" x2="672.3" y2="205.9" stroke="#0606d2" stroke-width="2.8" stroke-dasharray="16.5 6.8"/>
<text x="687" y="215.9" class="lg">CC @ 50 <tspan class="sup" dy="-17">o</tspan><tspan dy="17">C</tspan></text>
<line x1="610.6" y1="249.8" x2="674" y2="249.8" stroke="#0606d2" stroke-width="3.0" stroke-dasharray="2.1 8.0" stroke-linecap="round"/>
<text x="687" y="259.8" class="lg">CC @ 80 <tspan class="sup" dy="-17">o</tspan><tspan dy="17">C</tspan></text>
</svg>
</body></html>
